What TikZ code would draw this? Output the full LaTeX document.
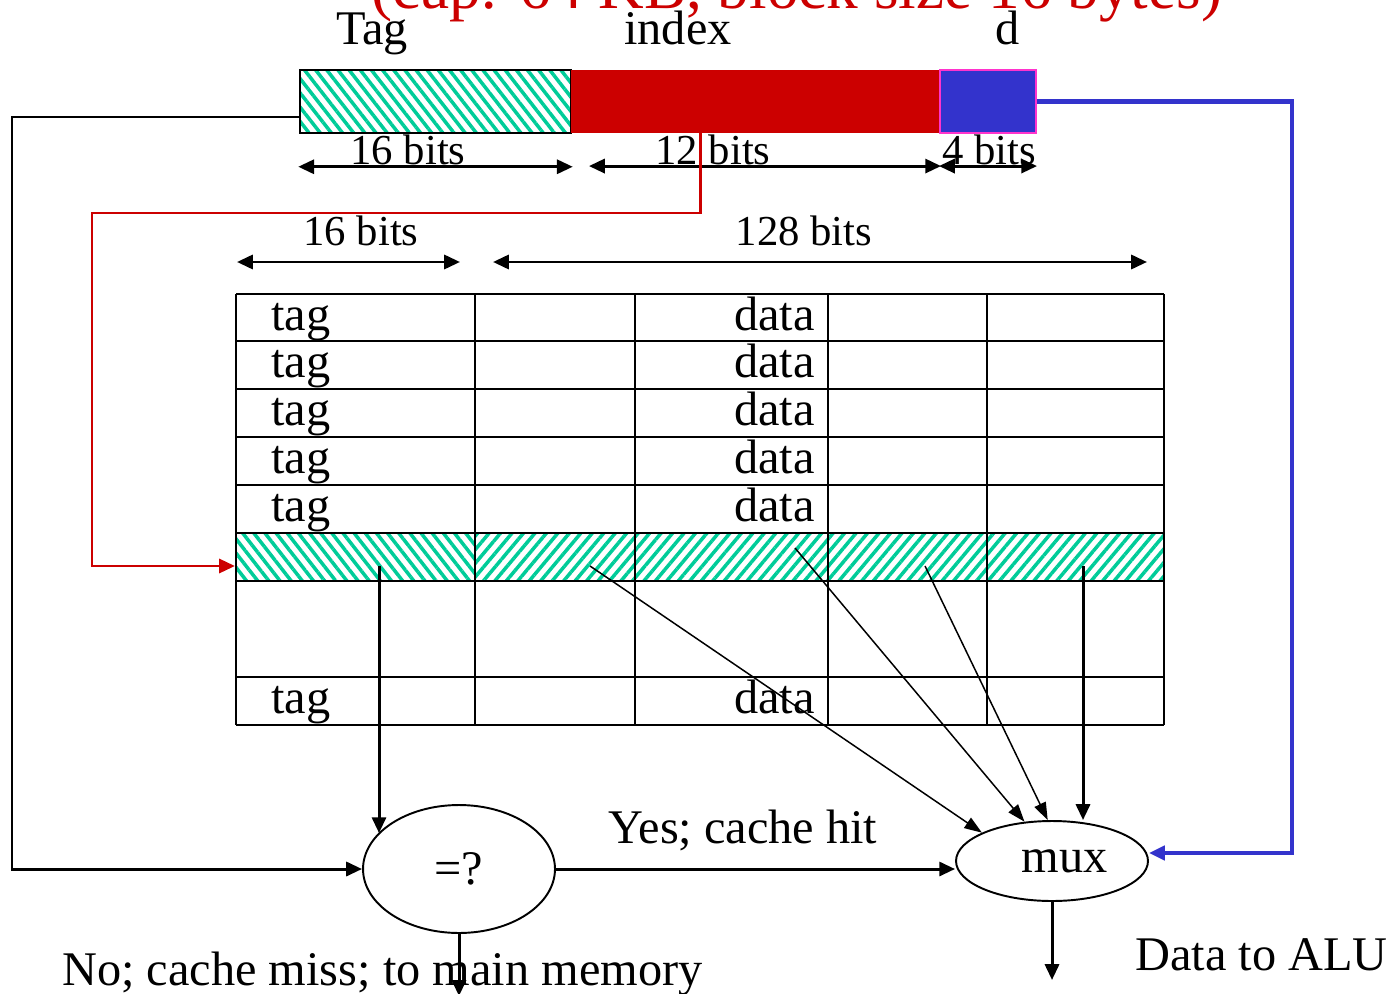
\documentclass[tikz,border=0pt]{standalone}
\usepackage{fontspec}
\setmainfont{Liberation Serif}
\usetikzlibrary{arrows.meta, positioning, shapes.geometric, fit, patterns.meta, calc}
\definecolor{addrred}{HTML}{CC0000}
\definecolor{addrblue}{HTML}{3333CC}
\definecolor{addrpink}{HTML}{FF33CC}
\definecolor{hatchgreen}{HTML}{00CC99}

\begin{document}
\begin{tikzpicture}[x=0.02cm, y=-0.02cm, >={Triangle[length=9pt, width=8pt]},
  Txt/.style={font=\fontsize{27.5}{32}\selectfont, inner sep=0pt, anchor=base},
  Bits/.style={font=\fontsize{24.3}{28}\selectfont, inner sep=0pt, anchor=base},
  Dim/.style={<->, line width=1.7pt},
  Wire/.style={->, line width=1.7pt},
  Thin/.style={->, line width=0.85pt, >={Triangle[length=10pt, width=7pt]}},
  HatchA/.style={pattern={Lines[angle=-52, distance=5pt, line width=2pt]}, pattern color=hatchgreen},
  HatchB/.style={pattern={Lines[angle=50, distance=5pt, line width=2pt]}, pattern color=hatchgreen},
  Field/.style={inner sep=0pt, line width=1.2pt},
  Oval/.style={draw, ellipse, line width=1.1pt, inner sep=0pt, font=\fontsize{27.5}{32}\selectfont}]
\useasboundingbox (0,0) rectangle (1388,993);

% title, mostly cut off by the page
\node[Txt, font=\fontsize{36}{40}\selectfont, text=addrred] (title) at (797,9) {(cap: 64 KB, block size 16 bytes)};

% address fields
\coordinate (a0) at (300,70);
\coordinate (a1) at (571,133);
\coordinate (a2) at (940,70);
\coordinate (a3) at (1036,133);
\node[Field, fit=(a0)(a1), draw, HatchA] (tagfld) {};
\node[Field, fit=(a1)(a2), fill=addrred] (idxfld) {};
\node[Field, fit=(a2)(a3), fill=addrblue, draw=addrpink] (dfld) {};
\node[Txt] (tagtxt) at (372,45) {Tag};
\node[Txt] (idxtxt) at (678,45) {index};
\node[Txt] (dtxt) at (1008,45) {d};

\draw[Dim] ([shift={(0,32)}]tagfld.south west) -- ([shift={(0,32)}]tagfld.south east);
\draw[Dim] ([shift={(19,32)}]idxfld.south west) -- ([shift={(0,32)}]idxfld.south east);
\draw[Dim] ([shift={(0,32)}]dfld.south west) -- ([shift={(0,32)}]dfld.south east);
\node[Bits] (b16) at (408,165) {16 bits};
\node[Bits] (b12) at (713,165) {12 bits};
\node[Bits] (b4) at (989,165) {4 bits};

% line widths
\coordinate (w0) at (237,262);
\coordinate (w1) at (460,262);
\coordinate (w2) at (493,262);
\coordinate (w3) at (1147,262);
\draw[Dim] (w0) -- (w1);
\draw[Dim] (w2) -- (w3);
\node[Bits] (t16) at (361,245) {16 bits};
\node[Bits] (t128) at (804,245) {128 bits};

% cache lines
\node[Field, fit={(236,533) (475,581)}, HatchA] (ht1) {};
\foreach \i/\xa/\xb in {2/475/635, 3/635/828, 4/828/987, 5/987/1164}
  \node[Field, fit={(\xa,533) (\xb,581)}, HatchB] (ht\i) {};
\foreach \y in {294,341,389,437,485,533,581,677,725}
  \draw[line width=1.5pt] (236,\y) -- (1164,\y);
\foreach \x in {236,475,635,828,987,1164}
  \draw[line width=1.5pt] (\x,294) -- (\x,725);
\foreach \r/\b in {1/330, 2/377, 3/425, 4/473, 5/521, 8/713} {
  \node[Txt, anchor=base west] (tag\r) at (271,\b) {tag};
  \node[Txt, anchor=base east] (data\r) at (815,\b) {data};
}

\node[Oval, minimum width=3.84cm, minimum height=2.56cm] (eq) at (459,869) {=?};
\node[Oval, minimum width=3.84cm, minimum height=1.6cm] (mux) at (1052,861) {\hspace*{0.5cm}\raisebox{-0.1cm}{mux}};

% wires
\coordinate (tagout) at (300,117);
\coordinate (idxout) at (700,133);
\draw[Wire] (tagout) -- (12,117) |- (eq.west);
\draw[Wire, addrred] (idxout) |- (92,213) |- ([shift={(0,9)}]ht1.west);
\draw[Wire, addrblue, line width=2.8pt] (dfld.east) -| (1292,500) |- ([shift={(0,-8)}]mux.east);

\coordinate (s1) at (379,566);
\coordinate (s2) at (590,566);
\coordinate (s3) at (795,548);
\coordinate (s4) at (925,566);
\coordinate (s5) at (1083,566);
\draw[Wire] (s1) -- (s1 |- eq.156);
\draw[Thin] (s2) -- (mux.158);
\draw[Thin] (s3) -- (mux.125);
\draw[Thin] (s4) -- (mux.96);
\draw[Wire] (s5) -- (s5 |- mux.north);

\draw[Wire] (eq.east) -- (eq.east -| mux.west);
\node[Txt] (hit) at (743,843) {Yes; cache hit};
\node[Txt, anchor=base west] (miss) at (62,985) {No; cache miss; to main memory};
\coordinate (mem) at (459,996);
\draw[Wire] (eq.south) -- (mem);
\coordinate (alu) at (1052,980);
\draw[Wire] (mux.south) -- (alu);
\node[Txt, anchor=base west] (alutxt) at (1135,970) {Data to ALU};
\end{tikzpicture}
\end{document}
